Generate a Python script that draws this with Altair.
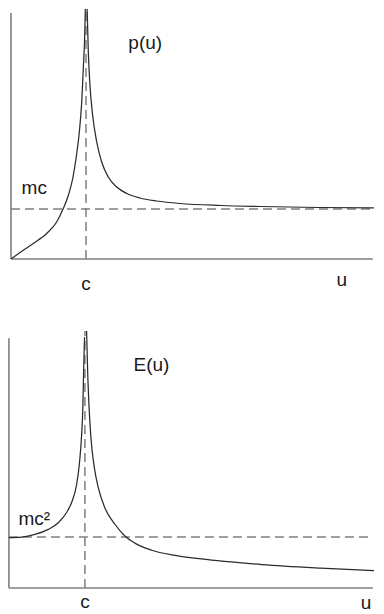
import altair as alt
import pandas as pd

# ---- p(u) panel (u in units of c, p in units of mc) ----
p_left_u = [0.0, 0.12, 0.297, 0.475, 0.609, 0.697, 0.764, 0.823, 0.867, 0.911, 0.943, 0.964, 0.983, 0.991]
p_left_v = [0.0, 0.13, 0.31, 0.51, 0.74, 1.01, 1.27, 1.61, 2.01, 2.54, 3.14, 3.81, 4.47, 5.00]
p_right_u = [1.015, 1.031, 1.053, 1.089, 1.143, 1.209, 1.297, 1.409, 1.543, 1.72, 1.943, 2.25, 2.8, 3.32, 4.1, 4.97]
p_right_v = [5.00, 4.14, 3.47, 2.87, 2.34, 1.94, 1.64, 1.44, 1.31, 1.22, 1.16, 1.11, 1.07, 1.05, 1.03, 1.02]

# ---- E(u) panel (u in units of c, E in units of mc^2) ----
e_left_u = [0.0, 0.167, 0.342, 0.518, 0.65, 0.759, 0.834, 0.891, 0.926, 0.957, 0.974, 0.983, 0.995]
e_left_v = [0.99, 1.00, 1.05, 1.15, 1.28, 1.48, 1.71, 2.03, 2.42, 3.01, 3.60, 4.25, 4.92]
e_right_u = [1.022, 1.036, 1.053, 1.079, 1.124, 1.176, 1.263, 1.395, 1.526, 1.658, 1.878, 2.188, 2.53, 3.33, 4.1, 4.95]
e_right_v = [5.04, 4.25, 3.60, 2.95, 2.36, 1.97, 1.57, 1.25, 1.02, 0.88, 0.74, 0.64, 0.57, 0.46, 0.39, 0.33]

top_labels = ["p(u)", "mc", "c", "u"]
top_label_u = [1.79, 0.31, 1.0, 4.41]
top_label_v = [4.20, 1.30, -0.62, -0.54]

bot_labels = ["E(u)", "mc²", "c", "u"]
bot_label_u = [1.875, 0.335, 1.0, 4.70]
bot_label_v = [4.25, 1.24, -0.40, -0.41]

AXIS_COLOR = "#7f7f7f"
CURVE_COLOR = "#2b2b2b"
FONT = "Liberation Sans"


def curve_frame(lu, lv, ru, rv):
    rows = [{"u": a, "v": b, "branch": "left"} for a, b in zip(lu, lv)]
    rows += [{"u": a, "v": b, "branch": "right"} for a, b in zip(ru, rv)]
    return pd.DataFrame(rows)


def panel(curve_df, labels, lab_u, lab_v, xdom, ydom, axis_top, dash_top, w, h):
    xs = alt.Scale(domain=xdom, nice=False, zero=False)
    ys = alt.Scale(domain=ydom, nice=False, zero=False)
    x_end = xdom[1] - 0.015
    axes_df = pd.DataFrame([
        {"x": 0.0, "x2": 0.0, "y": 0.0, "y2": axis_top},
        {"x": 0.0, "x2": x_end, "y": 0.0, "y2": 0.0},
    ])
    dash_df = pd.DataFrame([
        {"x": 0.0, "x2": x_end, "y": 1.0, "y2": 1.0},
        {"x": 1.0, "x2": 1.0, "y": 0.0, "y2": dash_top},
    ])
    lab_df = pd.DataFrame({"u": lab_u, "v": lab_v, "t": labels})

    axes = alt.Chart(axes_df).mark_rule(color=AXIS_COLOR, strokeWidth=1.6).encode(
        x=alt.X("x:Q", scale=xs, axis=None), x2="x2:Q",
        y=alt.Y("y:Q", scale=ys, axis=None), y2="y2:Q")
    dashes = alt.Chart(dash_df).mark_rule(color=AXIS_COLOR, strokeWidth=1.5,
                                          strokeDash=[9, 5]).encode(
        x=alt.X("x:Q", scale=xs, axis=None), x2="x2:Q",
        y=alt.Y("y:Q", scale=ys, axis=None), y2="y2:Q")
    line = alt.Chart(curve_df).mark_line(color=CURVE_COLOR, strokeWidth=1.25,
                                         interpolate="monotone", clip=True).encode(
        x=alt.X("u:Q", scale=xs, axis=None),
        y=alt.Y("v:Q", scale=ys, axis=None),
        detail="branch:N")
    text = alt.Chart(lab_df).mark_text(font=FONT, fontSize=19, color="#1a1a1a",
                                       align="center", baseline="alphabetic").encode(
        x=alt.X("u:Q", scale=xs, axis=None),
        y=alt.Y("v:Q", scale=ys, axis=None),
        text="t:N")
    return alt.layer(axes, dashes, line, text).properties(width=w, height=h)


# panel widths kept to 366 px so the SVG never exceeds the 368 px page body
top = panel(curve_frame(p_left_u, p_left_v, p_right_u, p_right_v),
            top_labels, top_label_u, top_label_v,
            [-0.04, 4.84], [0.0, 5.0], 4.92, 5.0, 366, 250)
bottom = panel(curve_frame(e_left_u, e_left_v, e_right_u, e_right_v),
               bot_labels, bot_label_u, bot_label_v,
               [-0.012, 4.804], [0.0, 5.04], 4.9, 5.04, 366, 257)

chart = alt.vconcat(top, bottom, spacing=72, bounds="flush").properties(
    padding={"left": 0, "top": 0, "right": 0, "bottom": 0},
    background="white",
).configure_view(stroke=None)

chart.save("out.html", embed_options={"renderer": "svg", "actions": False})
